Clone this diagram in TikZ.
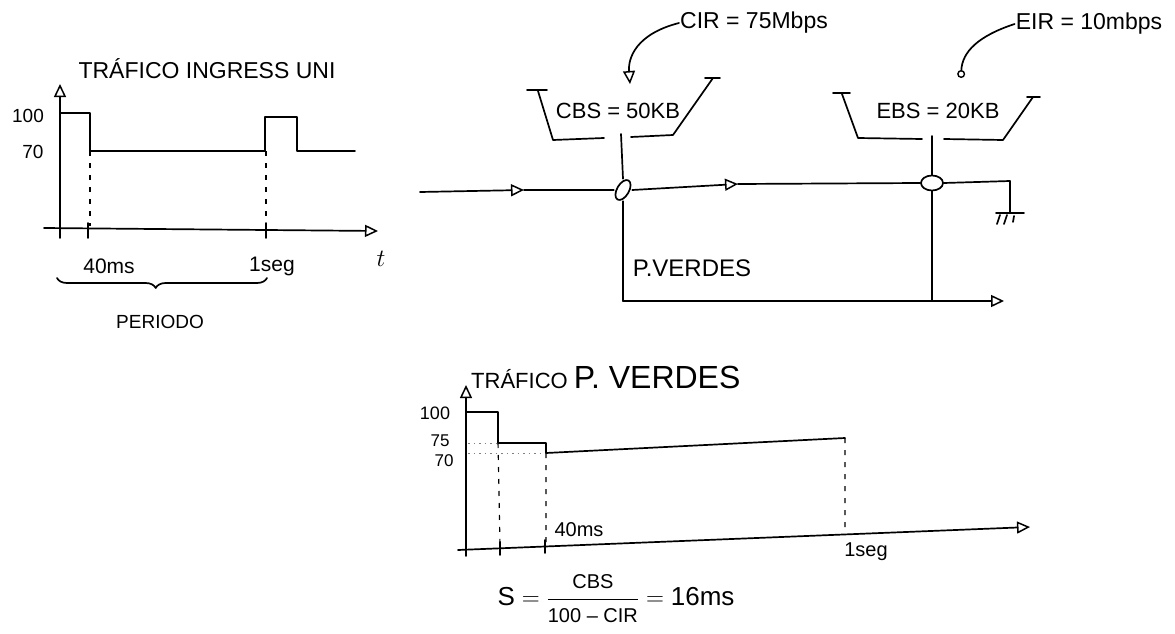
\documentclass[tikz,border=0pt]{standalone}
\usepackage{amsmath}
\usepackage{fontspec}
\setmainfont{Liberation Sans}
\usepackage{tikz}
\usetikzlibrary{arrows.meta}
\usetikzlibrary{shapes.geometric, decorations.pathreplacing}

\newcommand{\tam}[1]{\fontsize{#1}{#1}\selectfont}

\begin{document}
\begin{tikzpicture}[x=1pt, y=-1pt,
    linea/.style={line width=1.7pt, line cap=round, line join=round},
    guia/.style={line width=1.1pt, dash pattern=on 5pt off 7pt},
    punteo/.style={line width=0.9pt, gray, dash pattern=on 1.5pt off 4pt},
    flecha/.style={-{Triangle[open, length=13pt, width=12pt, line width=1.5pt]}},
    etiq/.style={inner sep=1pt},
    nudo/.style={draw, ellipse, line width=1.7pt, inner sep=0pt},
    hueco/.style={ellipse, inner sep=0pt}]
        \useasboundingbox (0,0) rectangle (1175,634);

        % Grafico trafico ingress
        \node[etiq, font=\tam{23}] (tit1) at (207,69) {TRÁFICO INGRESS UNI};
        \draw[linea, flecha] (60,238) -- (60,84);
        \draw[linea, flecha] (44,228) -- (378,231);
        \draw[linea] (88,223) -- (88,238) (266,223) -- (266,238);
        \draw[linea] (60,113) -- (90,113) -- (90,151) -- (265,151)
            -- (265,117) -- (297,117) -- (297,151) -- (355,151);
        \draw[guia] (90,151) -- (90,226) (266,151) -- (266,226);
        \node[etiq, font=\tam{19}] (y100a) at (28,116) {100};
        \node[etiq, font=\tam{19}] (y70a) at (33,152) {70};
        \node[etiq, font=\tam{21}] (t40a) at (109,266) {40ms};
        \node[etiq, font=\tam{21}] (t1a) at (272,266) {1seg};
        \node[etiq, font=\tam{32}] (ta) at (381,259) {$t$};
        \draw[linea, decorate, decoration={brace, mirror, amplitude=10pt, aspect=0.47}]
            (57,278) -- (267,278);
        \node[etiq, font=\tam{19}] (per) at (160,322) {PERIODO};

        % Cubetas y caminos
        \node[etiq, font=\tam{23}] (cir) at (754,23) {CIR = 75Mbps};
        \node[etiq, font=\tam{23}] (eir) at (1089,24) {EIR = 10mbps};
        \node[etiq, font=\tam{22}] (cbs) at (618,111) {CBS = 50KB};
        \node[etiq, font=\tam{22}] (ebs) at (938,111) {EBS = 20KB};
        \node[etiq, font=\tam{24}] (pv) at (692,268) {P.VERDES};

        \draw[linea] (527,90) -- (547,90) (538,91) -- (553,140) -- (604,138)
            (631,137) -- (673,135) -- (713,78) (705,78) -- (720,78);
        \draw[linea] (833,93) -- (850,93) (842,94) -- (858,138) -- (922,139)
            (944,139) -- (1003,140) -- (1033,97) (1027,97) -- (1040,97);

        \draw[linea, flecha] (cir.west) .. controls (636,34) and (628,58) .. (630,84);
        \draw[linea, -{Circle[open, length=8pt, line width=1.4pt]}]
            (eir.west) .. controls (978,36) and (962,52) .. (961,78);

        \coordinate (in) at (420,192);
        \coordinate (m1) at (524,190);
        \coordinate (m2) at (738,184);
        \coordinate (b1) at (621,134);
        \coordinate (b2) at (932,136);
        \coordinate (esq) at (1010,181);
        \coordinate (tierra) at (1010,212);
        \coordinate (out) at (1004,301);
        \node[nudo, minimum width=12pt, minimum height=22pt, rotate=-30] (n1) at (623,190) {};
        \node[hueco, minimum width=18pt, minimum height=22pt] (e1) at (623,190) {};
        \node[nudo, minimum width=22pt, minimum height=15pt] (e2) at (932,183) {};

        \draw[linea, flecha] (in) -- (m1);
        \draw[linea] (m1) -- (e1.west);
        \draw[linea] (b1) -- (e1.north);
        \draw[linea, flecha] (e1.east) -- (m2);
        \draw[linea] (m2) -- (e2.west);
        \draw[linea] (b2) -- (e2.north);
        \draw[linea] (e2.east) -- (esq) -- (tierra);
        \draw[linea] (996,213) -- (1024,213)
            (1000,215) -- (997,224) (1007,215) -- (1004,224) (1014,216) -- (1013,222);
        \draw[linea] (e1.south) -- (e1.south |- out);
        \draw[linea, flecha] (e1.south |- out) -- (out);
        \draw[linea] (e2.south) -- (e2.south |- out);

        % Grafico trafico verdes
        \node[etiq, anchor=west] (tit2) at (470,377) {\tam{22}TRÁFICO \tam{32}P. VERDES};
        \draw[linea, flecha] (466,556) -- (466,385);
        \draw[linea, flecha] (458,550) -- (1030,527);
        \draw[linea] (500,542) -- (500,555) (545,540) -- (545,553);
        \draw[linea] (466,412) -- (498,412) -- (498,443) -- (546,443)
            -- (546,453) -- (845,438);
        \draw[punteo] (468,443) -- (498,443) (468,453) -- (546,453);
        \draw[guia] (498,443) -- (500,544) (546,453) -- (546,542) (845,438) -- (845,533);
        \node[etiq, font=\tam{18}] (y100b) at (435,413) {100};
        \node[etiq, font=\tam{17}] (y75b) at (440,441) {75};
        \node[etiq, font=\tam{17}] (y70b) at (444,461) {70};
        \node[etiq, font=\tam{20}] (t40b) at (579,530) {40ms};
        \node[etiq, font=\tam{20}] (t1b) at (866,552) {1seg};
        \node[etiq, font=\tam{26}] (form) at (616,599)
            {$\mbox{S} = \dfrac{\mbox{\tam{20}CBS}}{\mbox{\tam{20}100 – CIR}} = \mbox{16ms}$};
    \end{tikzpicture}
\end{document}
